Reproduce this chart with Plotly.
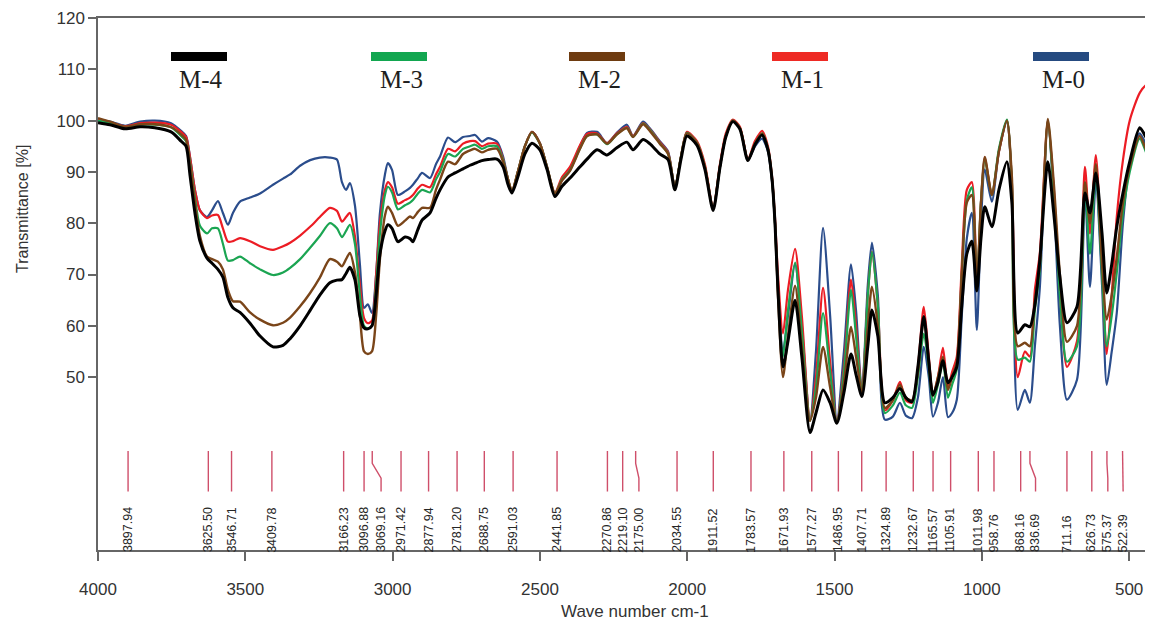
import plotly.graph_objects as go

wavenumber = [4000, 3959, 3908, 3857, 3807, 3752, 3718, 3701, 3688, 3671, 3654, 3630, 3613, 3593, 3576, 3559,
              3542, 3518, 3484, 3450, 3406, 3372, 3348, 3314, 3280, 3247, 3213, 3189, 3172, 3158, 3145, 3128,
              3111, 3097, 3084, 3070, 3056, 3043, 3026, 3016, 3002, 2982, 2958, 2941, 2931, 2914, 2900, 2873,
              2853, 2839, 2812, 2788, 2761, 2737, 2720, 2697, 2676, 2646, 2625, 2608, 2595, 2575, 2551, 2527,
              2500, 2476, 2449, 2425, 2398, 2364, 2340, 2306, 2272, 2239, 2205, 2184, 2150, 2127, 2093, 2065,
              2042, 2021, 2001, 1967, 1940, 1912, 1889, 1869, 1845, 1821, 1794, 1770, 1746, 1726, 1712, 1702,
              1692, 1675, 1658, 1634, 1611, 1583, 1563, 1539, 1515, 1492, 1468, 1444, 1427, 1407, 1387, 1373,
              1353, 1329, 1302, 1278, 1258, 1237, 1217, 1197, 1180, 1166, 1149, 1132, 1115, 1101, 1085, 1068,
              1051, 1034, 1017, 1003, 990, 966, 942, 915, 898, 878, 854, 837, 820, 803, 776, 756,
              735, 711, 677, 650, 633, 613, 592, 576, 559, 542, 521, 498, 464, 440, 419]

m0 = [100.2, 99.8, 99.0, 99.8, 100.0, 99.5, 98.0, 97.0, 93.0, 86.5, 82.5, 81.2, 82.5, 84.3, 82.0, 79.7,
      82.0, 84.2, 85.0, 85.8, 87.5, 88.7, 89.5, 91.2, 92.3, 92.8, 92.8, 92.4, 88.0, 86.5, 87.8, 83.5,
      72.0, 63.5, 64.2, 62.5, 70.0, 82.0, 89.5, 91.7, 90.4, 85.5, 86.2, 86.9, 87.5, 88.8, 89.8, 88.8,
      91.5, 93.0, 96.7, 95.8, 96.8, 97.0, 97.2, 95.9, 96.6, 95.9, 93.0, 88.5, 86.0, 90.0, 95.0, 97.8,
      95.6, 91.0, 85.5, 88.5, 90.4, 95.0, 97.6, 97.8, 95.6, 97.6, 99.2, 97.0, 99.8, 98.5, 96.0, 94.0,
      87.0, 93.0, 97.7, 95.6, 91.0, 82.8, 91.0, 97.0, 100.0, 98.5, 92.3, 95.0, 96.5, 94.0, 88.0, 80.0,
      68.0, 55.0, 62.0, 72.0, 60.0, 41.5, 55.0, 79.1, 62.0, 41.5, 55.0, 72.0, 63.0, 47.0, 68.0, 76.2,
      66.0, 41.7, 42.3, 45.0, 42.5, 42.0, 46.0, 55.9, 50.0, 42.3, 45.0, 50.0, 42.2, 43.0, 45.6, 62.0,
      77.0, 82.0, 59.2, 80.0, 90.5, 84.2, 94.0, 100.0, 87.0, 43.6, 47.5, 45.0, 56.0, 67.6, 100.0, 85.0,
      60.0, 45.6, 49.5, 86.0, 67.6, 88.0, 68.0, 48.5, 55.0, 62.5, 80.0, 91.7, 97.5, 95.0, 93.0]

m1 = [100.3, 99.7, 98.9, 99.5, 99.6, 99.2, 97.8, 96.8, 93.0, 86.5, 82.5, 81.0, 81.5, 81.6, 79.0, 76.4,
      76.5, 77.1, 76.5, 75.5, 74.8, 75.5, 76.2, 77.6, 79.3, 81.2, 83.0, 82.4, 80.3, 81.2, 82.0, 77.5,
      68.0, 61.5, 60.5, 61.0, 70.0, 80.0, 86.5, 88.0, 87.0, 83.8, 84.5, 85.0, 85.5, 86.8, 87.5, 87.0,
      89.5, 91.0, 94.5, 94.0, 95.5, 96.0, 96.0, 95.0, 95.5, 95.5, 92.5, 88.5, 86.3, 90.0, 95.0, 97.8,
      95.6, 91.0, 86.0, 89.0, 91.0, 95.2, 97.4, 97.5, 95.6, 97.5, 98.8, 97.0, 99.5, 98.3, 95.8, 93.8,
      87.0, 93.0, 97.8, 96.0, 91.5, 83.0, 91.5, 97.5, 100.2, 98.8, 92.5, 96.0, 98.0, 95.0, 89.0, 81.0,
      70.0, 58.5, 67.0, 75.0, 62.0, 41.5, 50.0, 67.4, 53.0, 41.2, 52.0, 69.0, 60.0, 47.0, 66.0, 74.4,
      64.0, 43.5, 45.5, 49.1, 45.5, 45.0, 52.0, 63.7, 54.0, 46.5, 50.0, 55.7, 48.0, 51.0, 54.0, 72.0,
      86.5, 88.0, 68.0, 84.0, 92.9, 85.5, 94.0, 100.0, 88.0, 50.0, 55.0, 54.0, 67.0, 74.2, 100.0, 87.0,
      67.0, 52.0, 57.0, 91.0, 78.0, 93.3, 72.0, 54.5, 66.0, 81.2, 92.3, 100.0, 105.4, 107.0, 107.3]

m2 = [100.5, 99.8, 98.8, 99.3, 99.3, 98.7, 97.3, 96.2, 91.5, 84.0, 77.5, 73.5, 73.0, 72.5, 71.0, 67.0,
      64.8, 64.7, 62.6, 61.2, 60.1, 60.6, 61.6, 63.8, 66.4, 69.4, 73.0, 72.5, 71.6, 73.0, 74.2, 70.5,
      62.0, 55.0, 54.5, 55.0, 62.0, 73.0, 81.5, 83.2, 82.0, 79.5, 80.5, 81.3, 81.0, 82.2, 83.0, 83.0,
      86.5, 88.5, 92.0, 91.5, 93.5, 94.2, 94.5, 93.8, 94.3, 94.5, 92.0, 88.5, 86.2, 90.0, 95.0, 97.8,
      95.5, 91.0, 85.8, 88.3, 90.2, 94.5, 97.0, 97.3, 95.5, 97.3, 98.5, 96.8, 99.3, 98.0, 95.5, 93.5,
      87.0, 93.0, 97.5, 95.6, 91.0, 82.8, 91.0, 97.0, 100.0, 98.5, 92.3, 95.5, 97.5, 94.5, 88.5, 80.0,
      66.0, 50.0, 58.0, 67.8, 56.0, 41.5, 46.0, 55.9, 48.0, 41.2, 49.0, 59.8, 54.0, 47.0, 60.0, 67.6,
      60.0, 44.0, 45.5, 48.5, 46.0, 45.5, 51.0, 61.5, 53.0, 46.3, 50.0, 54.0, 47.5, 50.0, 53.0, 70.0,
      84.0, 85.5, 68.0, 84.0, 92.9, 85.5, 94.0, 100.0, 89.0, 56.0, 56.7, 56.0, 65.0, 72.0, 100.3, 88.0,
      70.0, 56.9, 60.0, 88.0, 80.0, 91.5, 72.0, 61.2, 66.0, 73.4, 84.0, 91.0, 97.0, 94.0, 92.5]

m3 = [100.0, 99.5, 98.7, 99.2, 99.2, 98.7, 97.0, 96.0, 92.0, 85.0, 79.5, 78.0, 79.0, 79.0, 76.0, 72.7,
      72.8, 73.5, 72.2, 71.0, 69.9, 70.4, 71.3, 73.0, 75.2, 77.5, 80.0, 79.0, 77.3, 78.5, 79.7, 76.0,
      66.0, 60.0, 59.5, 60.0, 68.0, 78.0, 85.5, 87.1, 86.0, 82.7, 83.5, 84.0, 84.5, 85.8, 86.5, 86.0,
      88.5, 90.0, 93.5, 93.0, 94.5, 95.0, 95.3, 94.5, 95.0, 95.0, 92.3, 88.5, 86.2, 90.0, 95.0, 97.7,
      95.5, 91.0, 85.8, 88.5, 90.3, 94.6, 97.0, 97.3, 95.4, 97.3, 98.6, 96.8, 99.4, 98.2, 95.6, 93.6,
      87.0, 93.0, 97.6, 95.7, 91.0, 82.8, 91.0, 97.0, 100.0, 98.5, 92.3, 95.5, 97.5, 94.5, 88.5, 80.0,
      67.0, 54.0, 63.0, 72.3, 59.0, 41.5, 48.0, 62.5, 51.0, 41.2, 51.0, 67.0, 58.0, 47.0, 66.0, 74.4,
      64.0, 43.0, 44.5, 47.0, 44.5, 44.0, 50.0, 58.5, 52.0, 45.0, 48.5, 53.0, 46.0, 48.5, 51.5, 70.0,
      84.5, 87.0, 68.0, 84.0, 92.5, 85.5, 94.5, 100.2, 88.0, 53.4, 53.8, 53.0, 63.0, 71.0, 100.0, 86.0,
      66.0, 53.0, 56.0, 87.0, 74.0, 90.0, 70.0, 56.0, 62.0, 70.3, 82.0, 90.0, 96.5, 93.5, 91.7]

m4 = [99.6, 99.2, 98.4, 98.8, 98.6, 97.8, 96.0, 95.0, 89.5, 82.0, 76.5, 73.2, 72.2, 71.0, 69.5, 65.5,
      63.5, 62.6, 60.5, 58.0, 55.9, 56.2, 57.5, 60.0, 63.0, 66.0, 68.4, 68.9, 69.0, 70.2, 71.4, 69.0,
      62.0, 59.6, 59.4, 60.0, 66.0, 74.0, 78.5, 79.7, 79.0, 76.4, 77.3, 77.0, 76.4, 78.8, 80.6, 82.0,
      84.8, 86.5, 89.0, 89.8, 90.6, 91.3, 91.7, 92.2, 92.4, 92.5, 91.0, 87.5, 85.9, 89.0, 93.5, 95.6,
      94.3, 90.5, 85.2, 87.2, 88.8, 91.0, 92.5, 94.3, 93.3, 94.7, 95.8, 94.3, 96.3, 95.5, 93.5, 92.4,
      86.5, 92.5, 97.0, 95.2, 90.5, 82.5, 90.8, 96.8, 99.8, 98.3, 92.2, 95.3, 97.2, 94.3, 88.5, 80.0,
      67.0, 52.0, 57.0, 65.0, 54.0, 39.2, 43.0, 47.5, 45.0, 41.0, 47.0, 54.5, 50.5, 46.2, 56.0, 63.1,
      58.0, 45.0, 46.0, 47.8, 46.0, 45.2, 52.0, 61.8, 53.0, 46.5, 49.0, 53.2, 48.9, 50.0, 52.0, 64.0,
      74.0, 76.5, 66.8, 77.0, 83.2, 79.3, 86.5, 92.0, 84.0, 58.6, 60.2, 59.8, 64.0, 72.9, 92.0, 82.0,
      69.5, 60.6, 63.7, 85.9, 82.0, 89.8, 78.0, 66.4, 72.0, 79.3, 85.9, 92.0, 98.6, 96.5, 95.0]

series_names = ["M-0", "M-1", "M-3", "M-2", "M-4"]
series_values = [m0, m1, m3, m2, m4]
series_colors = ["#2b4d8c", "#ec1c24", "#1ba552", "#7a4519", "#000000"]
series_widths = [2.2, 2.2, 2.2, 2.4, 3.0]

peaks = [3897.94, 3625.50, 3546.71, 3409.78, 3166.23, 3096.88, 3069.16, 2971.42, 2877.94, 2781.20,
         2688.75, 2591.03, 2441.85, 2270.86, 2219.10, 2175.00, 2034.55, 1911.52, 1783.57, 1671.93,
         1577.27, 1486.95, 1407.71, 1324.89, 1232.67, 1165.57, 1105.91, 1011.98, 958.76, 868.16,
         836.69, 711.16, 626.73, 575.37, 522.39]
peak_labels = ["%.2f" % p for p in peaks]
# label offsets (cm-1) where the printed label is displaced from its peak
label_offset = {3069.16: -30.0, 2175.00: -11.0, 836.69: -19.0, 575.37: -3.0, 522.39: -2.0}

legend_order = ["M-4", "M-3", "M-2", "M-1", "M-0"]
legend_colors = ["#000000", "#12a650", "#6e3b10", "#ee2a24", "#254a80"]
legend_px = [199, 399, 597, 800, 1061]

fig = go.Figure()
for name, vals, col, w in zip(series_names, series_values, series_colors, series_widths):
    fig.add_trace(go.Scatter(x=wavenumber, y=vals, mode="lines", name=name,
                             line=dict(color=col, width=w, shape="spline", smoothing=0.7),
                             hoverinfo="skip"))

# peak marker lines
mx, my = [], []
for p in peaks:
    lab = p + label_offset.get(p, 0.0)
    mx += [p, p, lab, lab, None]
    my += [35.6, 33.2, 30.3, 27.7, None]
fig.add_trace(go.Scatter(x=mx, y=my, mode="lines", line=dict(color="#cf4f6a", width=1.4),
                         hoverinfo="skip", showlegend=False))

annotations = []
for p, t in zip(peaks, peak_labels):
    lab = p + label_offset.get(p, 0.0)
    annotations.append(dict(x=lab, y=16.6, xref="x", yref="y", yshift=-5, text=t, showarrow=False,
                            textangle=-90, xanchor="center", yanchor="bottom", borderpad=0,
                            font=dict(family="Arial, Liberation Sans", size=12.5, color="#262626")))

# page offset of the figure inside the browser page (body margin)
OFF = 8
L, W, T, H = 98, 1055, 18, 532
def px2x(px):
    return (px - L) / W
def py2y(py):
    return (T + H - py) / H

shapes = []
for name, col, cx in zip(legend_order, legend_colors, legend_px):
    shapes.append(dict(type="rect", xref="paper", yref="paper",
                       x0=px2x(cx - 28), x1=px2x(cx + 28), y0=py2y(61), y1=py2y(52),
                       fillcolor=col, line=dict(width=0)))
    annotations.append(dict(x=px2x(cx + 2), y=py2y(79), xref="paper", yref="paper", text=name,
                            showarrow=False, xanchor="center", yanchor="middle",
                            font=dict(family="Liberation Serif, Times New Roman", size=25, color="#1e1e1e")))

annotations.append(dict(x=px2x(635), y=py2y(611), xref="paper", yref="paper", text="Wave number cm-1",
                        showarrow=False, xanchor="center", yanchor="middle",
                        font=dict(family="Arial, Liberation Sans", size=17, color="#333333")))
annotations.append(dict(x=px2x(22), y=py2y(209), xref="paper", yref="paper", text="Transmittance [%]",
                        showarrow=False, xanchor="center", yanchor="middle", textangle=-90,
                        font=dict(family="Arial, Liberation Sans", size=16, color="#333333")))

fig.update_layout(
    width=1153 - OFF, height=622 - OFF,
    margin=dict(l=L - OFF, r=0, t=T - OFF, b=622 - T - H, autoexpand=False),
    plot_bgcolor="white", paper_bgcolor="white",
    showlegend=False,
    annotations=annotations, shapes=shapes,
    xaxis=dict(range=[4000, 419], tickvals=[4000, 3500, 3000, 2500, 2000, 1500, 1000, 500],
               ticks="outside", ticklen=9, tickwidth=1.5, tickcolor="#666666",
               showline=True, linecolor="#666666", linewidth=1.5, mirror=True,
               showgrid=False, zeroline=False, ticklabelstandoff=14,
               tickfont=dict(family="Arial, Liberation Sans", size=17, color="#333333")),
    yaxis=dict(range=[16.3, 120], tickvals=[50, 60, 70, 80, 90, 100, 110, 120],
               ticks="outside", ticklen=8, tickwidth=1.5, tickcolor="#666666",
               showline=True, linecolor="#666666", linewidth=1.5,
               showgrid=False, zeroline=False,
               tickfont=dict(family="Arial, Liberation Sans", size=17, color="#333333")),
)

fig.write_html("out.html")
